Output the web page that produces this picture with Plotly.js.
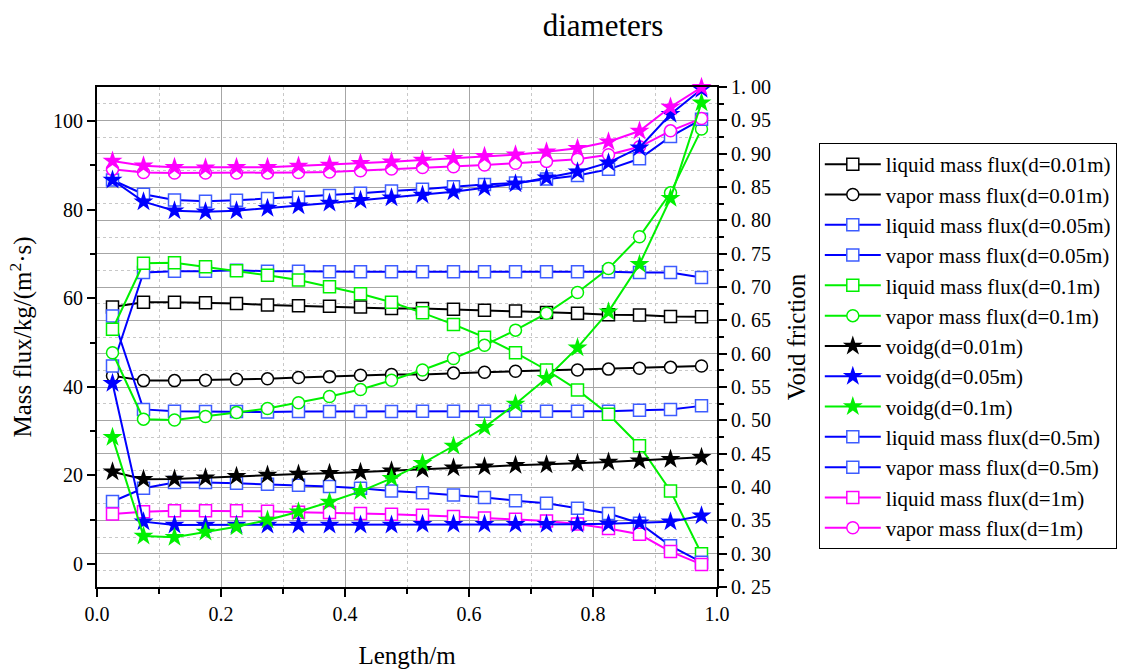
<!DOCTYPE html>
<html><head><meta charset="utf-8">
<script src="https://cdn.plot.ly/plotly-3.0.1.min.js"></script>
<style>html,body{margin:0;padding:0;background:#fff;overflow:hidden}</style>
</head><body><div id="chart" style="width:1142px;height:671px"></div>
<script>
const lengthM = [0.025,0.075,0.125,0.175,0.225,0.275,0.325,0.375,0.425,0.475,0.525,0.575,0.625,0.675,0.725,0.775,0.825,0.875,0.925,0.975];

const liqD001 = [58.0,59.1,59.1,59.0,58.8,58.5,58.3,58.2,58.0,57.7,57.7,57.5,57.3,57.1,56.8,56.6,56.3,56.2,55.9,55.8];
const vapD001 = [42.5,41.4,41.4,41.5,41.7,41.8,42.1,42.3,42.6,42.8,42.8,43.1,43.3,43.5,43.7,43.8,44.0,44.2,44.4,44.7];
const liqD005 = [44.7,65.8,66.1,66.1,66.3,66.1,66.1,66.0,66.0,66.0,66.0,66.0,66.0,66.0,66.0,66.0,66.0,65.8,65.8,64.7];
const vapD005 = [56.0,34.9,34.5,34.4,34.4,34.3,34.4,34.4,34.4,34.4,34.5,34.5,34.5,34.5,34.5,34.5,34.5,34.7,34.9,35.7];
const liqD01  = [53.0,67.9,68.0,67.1,66.2,65.2,64.1,62.6,61.0,59.1,56.7,54.1,51.2,47.7,43.8,39.3,33.8,26.7,16.5,2.3];
const vapD01  = [47.7,32.7,32.5,33.3,34.2,35.1,36.4,37.8,39.4,41.5,43.8,46.4,49.4,52.8,56.6,61.3,66.7,73.9,83.8,98.2];
const voidD001 = [0.423,0.4115,0.412,0.414,0.416,0.418,0.4195,0.4205,0.422,0.4245,0.4265,0.429,0.4305,0.4325,0.4335,0.4355,0.4375,0.4395,0.4415,0.4445];
const voidD005 = [0.5555,0.348,0.343,0.343,0.343,0.343,0.343,0.343,0.343,0.343,0.344,0.344,0.344,0.344,0.344,0.344,0.345,0.3465,0.348,0.357];
const voidD01  = [0.4745,0.3265,0.3245,0.3325,0.3405,0.3505,0.363,0.3775,0.3935,0.413,0.4355,0.4615,0.4895,0.5245,0.563,0.609,0.663,0.734,0.833,0.9765];
const liqD05 = [14.1,17.1,18.4,18.4,18.2,18.0,17.8,17.5,17.1,16.5,16.1,15.6,15.0,14.3,13.7,12.6,11.4,9.2,4.1,0.4];
const vapD05 = [86.7,83.5,82.2,81.9,82.1,82.5,82.8,83.2,83.7,84.2,84.6,85.2,85.7,86.0,86.9,87.7,89.1,91.5,96.5,100.4];
const liqD1  = [11.3,11.8,12.0,12.0,12.0,11.9,11.7,11.6,11.4,11.2,11.0,10.7,10.4,10.1,9.7,9.0,8.0,6.7,2.8,-0.1];
const vapD1  = [89.1,88.4,88.3,88.3,88.3,88.3,88.4,88.5,88.8,89.2,89.5,89.7,90.1,90.5,90.9,91.4,92.4,94.2,97.8,100.6];
const voidD05 = [0.8605,0.828,0.8145,0.813,0.8145,0.818,0.822,0.826,0.830,0.834,0.838,0.843,0.849,0.855,0.864,0.873,0.8865,0.909,0.959,0.9965];
const voidD1  = [0.889,0.882,0.8795,0.879,0.8795,0.8795,0.8815,0.883,0.8855,0.888,0.8905,0.893,0.896,0.8985,0.903,0.908,0.918,0.934,0.970,0.9995];

const voidTickVals = [0.25,0.30,0.35,0.40,0.45,0.50,0.55,0.60,0.65,0.70,0.75,0.80,0.85,0.90,0.95,1.00];
const voidTickText = ["0. 25","0. 30","0. 35","0. 40","0. 45","0. 50","0. 55","0. 60","0. 65","0. 70","0. 75","0. 80","0. 85","0. 90","0. 95","1. 00"];

const BLK='#000000', BLU='#0000ff', BLU2='#3d5cff', GRN='#00f000', MAG='#ff00ff';
const serif = 'Liberation Serif';

function tr(name, y, color, edge, symbol, axis, show){
  const star = symbol === 'star';
  return {
    x: lengthM, y: y, name: name, type: 'scatter', mode: 'lines+markers',
    yaxis: axis, showlegend: show !== false, cliponaxis: false,
    line: {color: color, width: 2},
    marker: star ? {symbol: 'star', size: 15, color: color, line: {width: 0}}
                 : {symbol: symbol, size: 12, color: '#ffffff', line: {color: edge, width: 1.5}}
  };
}

const data = [
  tr('liquid mass flux(d=0.01m)', liqD001, BLK, BLK, 'square', 'y'),
  tr('vapor mass flux(d=0.01m)', vapD001, BLK, BLK, 'circle', 'y'),
  tr('liquid mass flux(d=0.05m)', liqD005, BLU, BLU2, 'square', 'y'),
  tr('vapor mass flux(d=0.05m)', vapD005, BLU, BLU2, 'square', 'y'),
  tr('liquid mass flux(d=0.1m)', liqD01, GRN, GRN, 'square', 'y'),
  tr('vapor mass flux(d=0.1m)', vapD01, GRN, GRN, 'circle', 'y'),
  tr('voidg(d=0.01m)', voidD001, BLK, BLK, 'star', 'y2'),
  tr('voidg(d=0.05m)', voidD005, BLU, BLU, 'star', 'y2'),
  tr('voidg(d=0.1m)', voidD01, GRN, GRN, 'star', 'y2'),
  tr('liquid mass flux(d=0.5m)', liqD05, BLU, BLU2, 'square', 'y'),
  tr('vapor mass flux(d=0.5m)', vapD05, BLU, BLU2, 'square', 'y'),
  tr('liquid mass flux(d=1m)', liqD1, MAG, MAG, 'square', 'y'),
  tr('vapor mass flux(d=1m)', vapD1, MAG, MAG, 'circle', 'y'),
  tr('voidg(d=0.5m)', voidD05, BLU, BLU, 'star', 'y2', false),
  tr('voidg(d=1m)', voidD1, MAG, MAG, 'star', 'y2', false)
];

const tickF = {family: serif, size: 20, color: '#000'};
const titleF = {family: serif, size: 25, color: '#000'};

const layout = {
  width: 1142, height: 671,
  margin: {l: 97, r: 425, t: 87, b: 84},
  paper_bgcolor: '#ffffff', plot_bgcolor: '#ffffff',
  font: {family: serif, color: '#000000', size: 20},
  title: {text: 'diameters', font: {family: serif, size: 31, color: '#000'},
          x: 603/1142, xref: 'container', xanchor: 'center', y: 1 - 25/671, yref: 'container', yanchor: 'middle'},
  showlegend: true,
  legend: {x: 1.1642, y: 0.888, xanchor: 'left', yanchor: 'top', bordercolor: '#000', borderwidth: 1,
           font: {family: serif, size: 21, color: '#000'}, bgcolor: '#fff', tracegroupgap: 0, itemwidth: 56},
  xaxis: {range: [0, 1], dtick: 0.2, tick0: 0, showline: true, linecolor: '#000', linewidth: 2,
          mirror: true, ticks: 'outside', ticklen: 8, tickwidth: 2, tickcolor: '#000',
          showgrid: true, gridcolor: '#a6a6a6', gridwidth: 1, zeroline: false,
          tickfont: tickF, tickformat: '.1f',
          minor: {dtick: 0.1, ticks: 'outside', ticklen: 5, tickcolor: '#000', showgrid: true, gridcolor: '#c8c8c8', griddash: 'dot'},
          title: {text: 'Length/m', font: titleF, standoff: 22}},
  xaxis2: {overlaying: 'x', side: 'top', anchor: 'y', range: [0, 1], dtick: 0.2, tick0: 0, showline: false,
           ticks: 'inside', ticklen: 8, tickwidth: 2, tickcolor: '#000', showticklabels: false, showgrid: false, zeroline: false,
           minor: {dtick: 0.1, ticks: 'inside', ticklen: 5, tickcolor: '#000'}},
  yaxis: {range: [-5.2, 107.7], dtick: 20, tick0: 0, showline: true, linecolor: '#000', linewidth: 2,
          ticks: 'outside', ticklen: 8, tickwidth: 2, tickcolor: '#000', showgrid: false, zeroline: false,
          tickfont: tickF,
          minor: {dtick: 10, ticks: 'outside', ticklen: 5, tickcolor: '#000'},
          title: {text: 'Mass flux/kg/(m<sup>2</sup>·s)', font: titleF, standoff: 14}},
  yaxis2: {overlaying: 'y', side: 'right', range: [0.25, 1.0], tickvals: voidTickVals, ticktext: voidTickText,
           showline: true, linecolor: '#000', linewidth: 2, ticks: 'outside', ticklen: 8, tickwidth: 2, tickcolor: '#000',
           showgrid: true, gridcolor: '#a6a6a6', gridwidth: 1, zeroline: false, tickfont: tickF,
           minor: {dtick: 0.025, tick0: 0.25, ticks: 'outside', ticklen: 5, tickcolor: '#000', showgrid: true, gridcolor: '#c8c8c8', griddash: 'dot'},
           title: {text: 'Void friction', font: titleF, standoff: 17}}
};

Plotly.newPlot('chart', data, layout, {displayModeBar: false, staticPlot: true});
</script>
</body></html>
